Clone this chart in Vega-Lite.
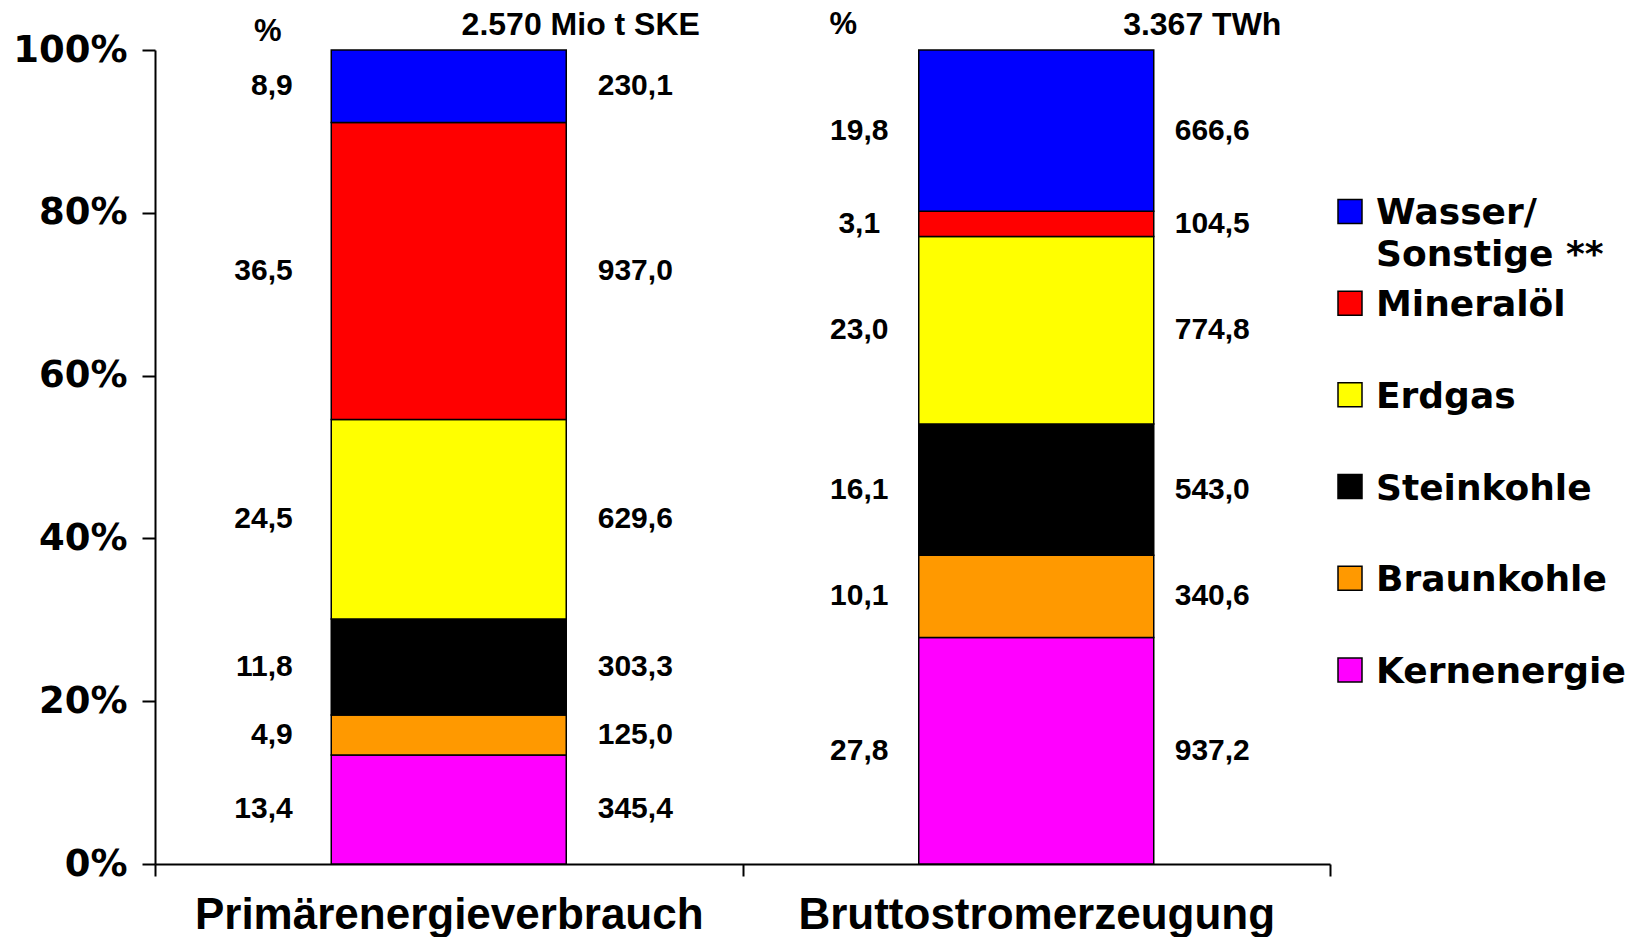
{
  "$schema": "https://vega.github.io/schema/vega-lite/v6.json",
  "autosize": {"type": "pad"},
  "padding": {"left": 12, "top": 9, "right": 0, "bottom": 0},
  "spacing": 4,
  "background": "white",
  "resolve": {"scale": {"y": "independent", "color": "shared"}, "axis": {"y": "independent"}},
  "config": {
    "view": {"stroke": null},
    "font": "Liberation Sans",
    "locale": {"number": {"decimal": ",", "thousands": ".", "grouping": [3], "currency": ["", " €"]}}
  },
  "datasets": {
    "energie": [
      {"Bereich": "Primärenergieverbrauch", "Energieträger": "Kernenergie", "Anteil": 13.4, "Menge": 345.4},
      {"Bereich": "Primärenergieverbrauch", "Energieträger": "Braunkohle", "Anteil": 4.9, "Menge": 125.0},
      {"Bereich": "Primärenergieverbrauch", "Energieträger": "Steinkohle", "Anteil": 11.8, "Menge": 303.3},
      {"Bereich": "Primärenergieverbrauch", "Energieträger": "Erdgas", "Anteil": 24.5, "Menge": 629.6},
      {"Bereich": "Primärenergieverbrauch", "Energieträger": "Mineralöl", "Anteil": 36.5, "Menge": 937.0},
      {"Bereich": "Primärenergieverbrauch", "Energieträger": "Wasser/\nSonstige **", "Anteil": 8.9, "Menge": 230.1},
      {"Bereich": "Bruttostromerzeugung", "Energieträger": "Kernenergie", "Anteil": 27.8, "Menge": 937.2},
      {"Bereich": "Bruttostromerzeugung", "Energieträger": "Braunkohle", "Anteil": 10.1, "Menge": 340.6},
      {"Bereich": "Bruttostromerzeugung", "Energieträger": "Steinkohle", "Anteil": 16.1, "Menge": 543.0},
      {"Bereich": "Bruttostromerzeugung", "Energieträger": "Erdgas", "Anteil": 23.0, "Menge": 774.8},
      {"Bereich": "Bruttostromerzeugung", "Energieträger": "Mineralöl", "Anteil": 3.1, "Menge": 104.5},
      {"Bereich": "Bruttostromerzeugung", "Energieträger": "Wasser/\nSonstige **", "Anteil": 19.8, "Menge": 666.6}
    ],
    "kopf": [
      {"Bereich": "Primärenergieverbrauch", "Einheit": "%", "Gesamt": "2.570 Mio t SKE"},
      {"Bereich": "Bruttostromerzeugung", "Einheit": "%", "Gesamt": "3.367 TWh"}
    ]
  },
  "hconcat": [
    {
      "width": 1175,
      "height": 814,
      "encoding": {
        "x": {
          "field": "Bereich",
          "type": "nominal",
          "sort": ["Primärenergieverbrauch", "Bruttostromerzeugung"],
          "scale": {"paddingInner": 0, "paddingOuter": 0},
          "axis": {
            "title": null,
            "labelAngle": 0,
            "tickBand": "extent",
            "tickSize": 12,
            "tickWidth": 2,
            "tickColor": "black",
            "domainColor": "black",
            "domainWidth": 2,
            "labelFont": "Liberation Sans",
            "labelFontSize": 44,
            "labelFontWeight": "bold",
            "labelColor": "black",
            "labelPadding": 17,
            "labelLimit": 800
          }
        }
      },
      "layer": [
        {
          "data": {"name": "energie"},
          "transform": [
            {"stack": "Anteil", "groupby": ["Bereich"], "as": ["y0", "y1"], "offset": "normalize"},
            {"calculate": "(datum.y0 + datum.y1) / 2", "as": "mitte"}
          ],
          "layer": [
            {
              "mark": {"type": "bar", "width": {"band": 0.4}, "stroke": "black", "strokeWidth": 1.5},
              "encoding": {
                "y": {
                  "field": "y0",
                  "type": "quantitative",
                  "scale": {"domain": [0, 1], "nice": false},
                  "axis": {
                    "title": null,
                    "values": [0, 0.2, 0.4, 0.6, 0.8, 1],
                    "format": ".0%",
                    "grid": false,
                    "tickSize": 13,
                    "tickWidth": 2,
                    "tickColor": "black",
                    "domainColor": "black",
                    "domainWidth": 2,
                    "labelFont": "DejaVu Sans",
                    "labelFontWeight": "bold",
                    "labelFontSize": 37,
                    "labelColor": "black",
                    "labelPadding": 15,
                    "labelFlush": false,
                    "labelLimit": 300
                  }
                },
                "y2": {"field": "y1"},
                "color": {
                  "field": "Energieträger",
                  "type": "nominal",
                  "scale": {
                    "domain": ["Wasser/\nSonstige **", "Mineralöl", "Erdgas", "Steinkohle", "Braunkohle", "Kernenergie"],
                    "range": ["#0000ff", "#ff0000", "#ffff00", "#000000", "#ff9900", "#ff00ff"]
                  },
                  "legend": null
                }
              }
            },
            {
              "transform": [{"filter": "datum.Bereich === 'Primärenergieverbrauch'"}],
              "mark": {"type": "text", "align": "right", "baseline": "middle", "dx": -156, "font": "Liberation Sans", "fontWeight": "bold", "fontSize": 30, "color": "black"},
              "encoding": {
                "y": {"field": "mitte", "type": "quantitative"},
                "text": {"field": "Anteil", "type": "quantitative", "format": ".1f"}
              }
            },
            {
              "transform": [{"filter": "datum.Bereich === 'Primärenergieverbrauch'"}],
              "mark": {"type": "text", "align": "left", "baseline": "middle", "dx": 149, "font": "Liberation Sans", "fontWeight": "bold", "fontSize": 30, "color": "black"},
              "encoding": {
                "y": {"field": "mitte", "type": "quantitative"},
                "text": {"field": "Menge", "type": "quantitative", "format": ".1f"}
              }
            },
            {
              "transform": [{"filter": "datum.Bereich === 'Bruttostromerzeugung'"}],
              "mark": {"type": "text", "align": "center", "baseline": "middle", "dx": -177, "font": "Liberation Sans", "fontWeight": "bold", "fontSize": 30, "color": "black"},
              "encoding": {
                "y": {"field": "mitte", "type": "quantitative"},
                "text": {"field": "Anteil", "type": "quantitative", "format": ".1f"}
              }
            },
            {
              "transform": [{"filter": "datum.Bereich === 'Bruttostromerzeugung'"}],
              "mark": {"type": "text", "align": "center", "baseline": "middle", "dx": 176, "font": "Liberation Sans", "fontWeight": "bold", "fontSize": 30, "color": "black"},
              "encoding": {
                "y": {"field": "mitte", "type": "quantitative"},
                "text": {"field": "Menge", "type": "quantitative", "format": ".1f"}
              }
            }
          ]
        },
        {
          "data": {"name": "kopf"},
          "layer": [
            {
              "transform": [{"filter": "datum.Bereich === 'Primärenergieverbrauch'"}],
              "mark": {"type": "text", "align": "center", "baseline": "middle", "dx": -181, "dy": -18, "font": "Liberation Sans", "fontWeight": "bold", "fontSize": 31, "color": "black"},
              "encoding": {"y": {"datum": 1, "type": "quantitative"}, "text": {"field": "Einheit"}}
            },
            {
              "transform": [{"filter": "datum.Bereich === 'Primärenergieverbrauch'"}],
              "mark": {"type": "text", "align": "center", "baseline": "middle", "dx": 132, "dy": -25, "font": "Liberation Sans", "fontWeight": "bold", "fontSize": 32, "color": "black"},
              "encoding": {"y": {"datum": 1, "type": "quantitative"}, "text": {"field": "Gesamt"}}
            },
            {
              "transform": [{"filter": "datum.Bereich === 'Bruttostromerzeugung'"}],
              "mark": {"type": "text", "align": "center", "baseline": "middle", "dx": -193, "dy": -25, "font": "Liberation Sans", "fontWeight": "bold", "fontSize": 31, "color": "black"},
              "encoding": {"y": {"datum": 1, "type": "quantitative"}, "text": {"field": "Einheit"}}
            },
            {
              "transform": [{"filter": "datum.Bereich === 'Bruttostromerzeugung'"}],
              "mark": {"type": "text", "align": "center", "baseline": "middle", "dx": 166, "dy": -25, "font": "Liberation Sans", "fontWeight": "bold", "fontSize": 32, "color": "black"},
              "encoding": {"y": {"datum": 1, "type": "quantitative"}, "text": {"field": "Gesamt"}}
            }
          ]
        }
      ]
    },
    {
      "width": 26,
      "height": 642,
      "data": {"name": "energie"},
      "transform": [{"filter": "datum.Bereich === 'Primärenergieverbrauch'"}],
      "encoding": {
        "y": {
          "field": "Energieträger",
          "type": "nominal",
          "sort": ["Wasser/\nSonstige **", "Mineralöl", "Erdgas", "Steinkohle", "Braunkohle", "Kernenergie"],
          "scale": {"type": "point", "padding": 1, "align": 0.88},
          "axis": null
        }
      },
      "layer": [
        {
          "mark": {"type": "square", "size": 576, "filled": true, "opacity": 1, "stroke": "black", "strokeWidth": 1.5},
          "encoding": {
            "color": {
              "field": "Energieträger",
              "type": "nominal",
              "scale": {
                "domain": ["Wasser/\nSonstige **", "Mineralöl", "Erdgas", "Steinkohle", "Braunkohle", "Kernenergie"],
                "range": ["#0000ff", "#ff0000", "#ffff00", "#000000", "#ff9900", "#ff00ff"]
              },
              "legend": null
            }
          }
        },
        {
          "mark": {"type": "text", "align": "left", "baseline": "alphabetic", "dx": 26, "dy": 13, "lineBreak": "\n", "lineHeight": 42, "font": "DejaVu Sans", "fontWeight": "bold", "fontSize": 36, "color": "black"},
          "encoding": {"text": {"field": "Energieträger", "type": "nominal"}}
        }
      ]
    }
  ]
}
